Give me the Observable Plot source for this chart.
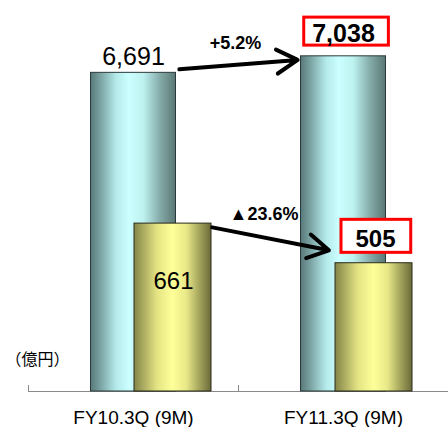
<!DOCTYPE html>
<html><head><meta charset="utf-8">
<script src="https://cdn.jsdelivr.net/npm/d3@7"></script>
<script src="https://cdn.jsdelivr.net/npm/@observablehq/plot@0.6"></script>
<style>
body{margin:0;background:#fff}
#chart{position:relative;width:448px;height:427px;overflow:hidden;background:#fff}
#chart svg{position:absolute;left:0;top:0}
</style>
</head><body><div id="chart"></div>
<script>
// ---- data ----
const categories = ["FY10.3Q (9M)", "FY11.3Q (9M)"];
const sales = [6691, 7038];          // cyan bars (left scale)
const profit = [661, 505];           // yellow bars (right scale)
const salesLabels = ["6,691", "7,038"];
const profitLabels = ["661", "505"];
const changeLabels = ["+5.2%", "▲23.6%"];
const unitLabel = "（億円）";

const W = 448, H = 427;
const FONT = "'Liberation Sans', Arial, sans-serif";
const svgns = "http://www.w3.org/2000/svg";

function gradientDefs() {
  const defs = document.createElementNS(svgns, "defs");
  const mk = (id, stops) => {
    const g = document.createElementNS(svgns, "linearGradient");
    g.setAttribute("id", id);
    g.setAttribute("x1", "0"); g.setAttribute("x2", "1");
    g.setAttribute("y1", "0"); g.setAttribute("y2", "0");
    for (const [o, c] of stops) {
      const s = document.createElementNS(svgns, "stop");
      s.setAttribute("offset", o); s.setAttribute("stop-color", c);
      g.appendChild(s);
    }
    defs.appendChild(g);
  };
  mk("gradCyan", [[0, "#587878"], [0.12, "#7ca4a4"], [0.3, "#b4eaea"], [0.45, "#ccffff"], [0.62, "#bdf2f0"], [0.82, "#84aaa8"], [1, "#5a7875"]]);
  mk("gradYellow", [[0, "#848448"], [0.12, "#aaaa60"], [0.3, "#e4e484"], [0.5, "#ffff99"], [0.68, "#e8e888"], [0.86, "#a0a05a"], [1, "#6a6a3a"]]);
  return () => defs;
}

const salesData = categories.map((c, i) => ({cat: c, value: sales[i], label: salesLabels[i]}));
const profitData = categories.map((c, i) => ({cat: c, value: profit[i], label: profitLabels[i]}));

const base = {
  width: W, height: H, marginTop: 10, marginBottom: 36,
  style: {fontFamily: FONT, background: "transparent", color: "#000"}
};

// ---- sales plot (left scale) ----
const p1 = Plot.plot({
  ...base, marginLeft: 28, marginRight: 0,
  x: {type: "band", domain: categories, padding: 0, axis: null},
  y: {domain: [0, 8000], axis: null},
  marks: [
    gradientDefs(),
    Plot.ruleY([0], {stroke: "#8a8a8a", strokeWidth: 1}),
    Plot.ruleX(categories, {dx: -105, insetTop: 375, stroke: "#8a8a8a"}),
    Plot.barY(salesData, {x: "cat", y: "value", fill: "url(#gradCyan)", stroke: "#2a3a3a", strokeWidth: 1, insetLeft: 62.5, insetRight: 62.5}),
    Plot.text(salesData.slice(0, 1), {x: "cat", y: "value", text: "label", lineAnchor: "bottom", dy: -8, fontSize: 25, fill: "#000"}),
    Plot.text(salesData.slice(1), {x: "cat", y: "value", text: "label", lineAnchor: "bottom", dy: -14, fontSize: 25, fontWeight: "bold", fill: "#000"}),
    Plot.arrow([{from: categories[0], to: categories[1], v1: sales[0], v2: sales[1]}],
      {x1: "from", y1: "v1", x2: "to", y2: "v2", insetStart: 46, insetEnd: 46, stroke: "#000", strokeWidth: 4, headLength: 9, headAngle: 60}),
    Plot.text([{cat: categories[1], value: sales[1], label: changeLabels[0]}],
      {x: "cat", y: "value", text: "label", dx: -108, dy: -7, lineAnchor: "bottom", fontSize: 18, fontWeight: "bold", fill: "#000"}),
    Plot.text([unitLabel], {text: d => d, frameAnchor: "bottom-left", dx: -23, dy: -27, textAnchor: "start", fontSize: 16, fontFamily: "'Noto Sans CJK JP', sans-serif", fill: "#000"}),
    Plot.axisX({domain: categories, tickSize: 0, tickPadding: 19, fontSize: 19, fill: "#000", label: null})
  ]
});

// ---- profit plot (right scale) ----
const p2 = Plot.plot({
  ...base, marginLeft: 0, marginRight: 0,
  x: {type: "band", domain: categories, padding: 0, range: [71.7, 473.7], axis: null},
  y: {domain: [0, 1500], axis: null},
  marks: [
    Plot.barY(profitData, {x: "cat", y: "value", fill: "url(#gradYellow)", stroke: "#2a2a1a", strokeWidth: 1, insetLeft: 62, insetRight: 62}),
    Plot.text(profitData.slice(0, 1), {x: "cat", y: "value", text: "label", lineAnchor: "bottom", dx: 0.5, dy: 65, fontSize: 24, fill: "#000"}),
    Plot.text(profitData.slice(1), {x: "cat", y: "value", text: "label", lineAnchor: "bottom", dx: 1.5, dy: -16, fontSize: 24, fontWeight: "bold", fill: "#000"}),
    Plot.arrow([{from: categories[0], to: categories[1], v1: profit[0], v2: profit[1]}],
      {x1: "from", y1: "v1", x2: "to", y2: "v2", insetStart: 40, insetEnd: 46, dy: -4, stroke: "#000", strokeWidth: 4, headLength: 9, headAngle: 60}),
    Plot.text([{cat: categories[0], value: profit[0], label: changeLabels[1]}],
      {x: "cat", y: "value", text: "label", dx: 91, dy: -3.5, lineAnchor: "bottom", fontSize: 18, fontWeight: "bold", fill: "#000"})
  ]
});

const chart = document.getElementById("chart");
chart.appendChild(p1);
chart.appendChild(p2);

// red boxes behind highlighted values (padding: left, right, top, bottom relative to text / baseline)
const boxes = {"7,038": [10, 15, 26.7, 4.3], "505": [16, 16.7, 29.4, 6.6]};
for (const t of chart.querySelectorAll("text")) {
  const pad = boxes[t.textContent];
  if (!pad) continue;
  const bb = t.getBBox();
  const sw = 3;
  const r = document.createElementNS(svgns, "rect");
  r.setAttribute("x", bb.x - pad[0] + sw / 2);
  r.setAttribute("width", bb.width + pad[0] + pad[1] - sw);
  r.setAttribute("y", -pad[2] + sw / 2);
  r.setAttribute("height", pad[2] + pad[3] - sw);
  r.setAttribute("fill", "#fff");
  r.setAttribute("stroke", "#ff0000");
  r.setAttribute("stroke-width", sw);
  const tr = t.getAttribute("transform");
  if (tr) r.setAttribute("transform", tr);
  t.parentNode.insertBefore(r, t);
}
</script>
</body></html>
